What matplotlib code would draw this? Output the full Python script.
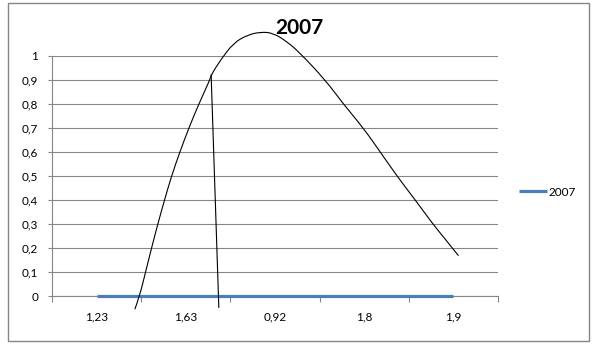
import matplotlib.pyplot as plt
import matplotlib.patches as mpatches
from matplotlib.path import Path

plt.rcParams['font.family'] = ['Lato', 'DejaVu Sans']

# chart data
categories = ['1,23', '1,63', '0,92', '1,8', '1,9']
values_2007 = [0, 0, 0, 0, 0]
yticks = [0, 0.1, 0.2, 0.3, 0.4, 0.5, 0.6, 0.7, 0.8, 0.9, 1.0]

# hand drawn curve on top of the chart (category index units, value units)
curve_x = [0.429, 0.482, 0.549, 0.616, 0.686, 0.761, 0.840, 0.933, 1.034, 1.146,
           1.269, 1.284, 1.389, 1.534, 1.69, 1.836, 1.98, 2.14, 2.28, 2.564,
           2.766, 2.99, 3.18, 3.367, 3.572, 3.77, 3.88, 4.057]
curve_y = [-0.055, 0.0, 0.1, 0.2, 0.3, 0.4, 0.5, 0.6, 0.7, 0.8,
           0.9, 0.921, 0.983, 1.054, 1.0875, 1.10, 1.096, 1.058, 1.0125, 0.9,
           0.8, 0.7, 0.6, 0.5, 0.4, 0.3, 0.25, 0.168]
stroke_x = [1.284, 1.370]
stroke_y = [0.921, -0.047]

grid_col = '#868686'
blue = '#4A7EBB'

fig = plt.figure(figsize=(6, 3.48), dpi=100)
ax = fig.add_axes([0.0867, 0.1494, 0.7433, 0.6897])

# outer chart border
fig.patches.append(mpatches.Rectangle((8 / 600, 7 / 348), 581 / 600, 338 / 348,
                                      transform=fig.transFigure, fill=False,
                                      edgecolor=grid_col, linewidth=1))

xs = list(range(len(categories)))
ax.plot(xs, values_2007, color=blue, linewidth=2.3, label='2007', zorder=3,
        solid_capstyle='butt', clip_on=False)

# smooth freehand curve: quadratic bezier through midpoints of the control points
pts = list(zip(curve_x, curve_y))
verts = [pts[0]]
codes = [Path.MOVETO]
for i in range(1, len(pts) - 1):
    mid = ((pts[i][0] + pts[i + 1][0]) / 2, (pts[i][1] + pts[i + 1][1]) / 2)
    if i == len(pts) - 2:
        mid = pts[-1]
    verts += [pts[i], mid]
    codes += [Path.CURVE3, Path.CURVE3]
ax.add_patch(mpatches.PathPatch(Path(verts, codes), fill=False, edgecolor='black',
                                linewidth=0.8, clip_on=False, zorder=4))
ax.plot(stroke_x, stroke_y, color='black', linewidth=0.8, clip_on=False, zorder=4)

ax.set_xlim(-0.5, len(categories) - 0.5)
ax.set_ylim(0, 1)

ax.set_yticks(yticks)
ax.set_yticklabels([('%g' % v).replace('.', ',') for v in yticks])
ax.yaxis.grid(True, color=grid_col, linewidth=0.8)
ax.set_axisbelow(True)

ax.set_xticks([i - 0.5 for i in range(len(categories) + 1)])
ax.set_xticklabels([])
ax.set_xticks(xs, minor=True)
ax.set_xticklabels(categories, minor=True)
ax.tick_params(axis='x', which='minor', length=0, pad=11, labelsize=8.5)
ax.tick_params(axis='x', which='major', length=4, color=grid_col, width=0.8)
ax.tick_params(axis='y', length=3, color=grid_col, width=0.8, pad=7, labelsize=8.5)

for s in ['top', 'right']:
    ax.spines[s].set_visible(False)
for s in ['left', 'bottom']:
    ax.spines[s].set_color(grid_col)
    ax.spines[s].set_linewidth(0.8)

fig.text(299 / 600, 1 - 28 / 348, '2007', ha='center', va='center',
         fontsize=15, fontweight='bold')

fig.legend(loc='center left', bbox_to_anchor=(514 / 600, 1 - 192 / 348),
           frameon=False, fontsize=8.5, handlelength=2.4, handletextpad=0.15,
           borderaxespad=0)

plt.savefig('out.png', dpi=100)
